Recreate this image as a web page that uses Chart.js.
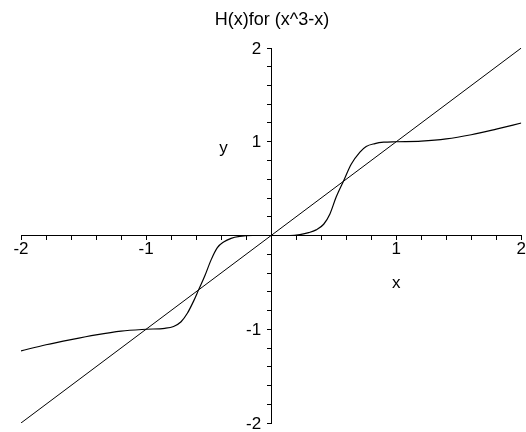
<!DOCTYPE html>
<html>
<head>
<meta charset="utf-8">
<script src="https://cdn.jsdelivr.net/npm/chart.js@4"></script>
<style>
    body { margin: 0; background: #fff; }
    #plot { display: block; }
</style>
</head>
<body>
<canvas id="plot" width="526" height="432"></canvas>
<script>
// values
const titleText = 'H(x)for (x^3-x)';
const curveX = [-2.0, -1.8, -1.6, -1.4, -1.2, -1.0, -0.85, -0.78, -0.72, -0.67, -0.62, -0.58, -0.53, -0.48, -0.43, -0.38, -0.32, -0.25, -0.15,
    0, 0.15, 0.23, 0.30, 0.36, 0.42, 0.47, 0.52, 0.58, 0.64, 0.71, 0.76, 0.83, 0.90, 1.0, 1.2, 1.4, 1.6, 1.8, 2.0];
const curveY = [-1.23, -1.165, -1.11, -1.06, -1.02, -1.0, -0.99, -0.97, -0.92, -0.83, -0.70, -0.58, -0.43, -0.26, -0.13, -0.07, -0.03, -0.01, 0,
    0, 0, 0.01, 0.03, 0.06, 0.12, 0.23, 0.41, 0.585, 0.76, 0.89, 0.95, 0.98, 0.995, 1.0, 1.007, 1.03, 1.075, 1.135, 1.20];
const lineX = [-2, 2];
const lineY = [-2, 2];
const axisRange = [-2, 2];
const tickStep = 0.2;
// where the axis names sit, in data units
const xLabelAt = [1, -0.51];
const yLabelAt = [-0.38, 0.93];

const FONT = '"Liberation Sans", Arial, sans-serif';
const toPoints = (xs, ys) => xs.map((x, i) => ({ x: x, y: ys[i] }));
const intLabel = (v) => {
    const r = Math.round(v);
    return Math.abs(v - r) < 1e-6 && r !== 0 ? String(r) : '';
};

// axis names + y tick labels (chart.js puts centred y labels right on the axis line)
const axisText = {
    id: 'axisText',
    afterDraw(chart) {
        const ctx = chart.ctx;
        const sx = chart.scales.x;
        const sy = chart.scales.y;
        const x0 = sx.getPixelForValue(0);
        ctx.save();
        ctx.fillStyle = '#000';
        ctx.font = '17px ' + FONT;
        ctx.textAlign = 'right';
        ctx.textBaseline = 'middle';
        sy.ticks.forEach(t => {
            const lbl = intLabel(t.value);
            if (lbl) ctx.fillText(lbl, x0 - 10, sy.getPixelForValue(t.value) + 1);
        });
        ctx.textAlign = 'center';
        ctx.fillText('x', sx.getPixelForValue(xLabelAt[0]), sy.getPixelForValue(xLabelAt[1]));
        ctx.fillText('y', sx.getPixelForValue(yLabelAt[0]), sy.getPixelForValue(yLabelAt[1]));
        ctx.restore();
    }
};

const axisStyle = {
    type: 'linear',
    min: axisRange[0],
    max: axisRange[1],
    border: { display: true, color: '#000', width: 1 },
    grid: { drawOnChartArea: false, drawTicks: true, tickLength: 4, color: '#000' },
    ticks: {
        stepSize: tickStep,
        autoSkip: false,
        color: '#000',
        font: { family: FONT, size: 17 },
        callback: intLabel
    }
};

new Chart(document.getElementById('plot').getContext('2d'), {
    type: 'scatter',
    data: {
        datasets: [
            {
                data: toPoints(lineX, lineY),
                showLine: true,
                borderColor: '#000',
                borderWidth: 1,
                pointRadius: 0
            },
            {
                data: toPoints(curveX, curveY),
                showLine: true,
                borderColor: '#000',
                borderWidth: 1.2,
                pointRadius: 0,
                cubicInterpolationMode: 'monotone'
            }
        ]
    },
    options: {
        responsive: false,
        animation: false,
        layout: { padding: { left: 21, right: 3, top: 0, bottom: 9 } },
        plugins: {
            legend: { display: false },
            tooltip: { enabled: false },
            title: {
                display: true,
                text: titleText,
                color: '#000',
                font: { family: FONT, size: 18, weight: 'normal' },
                padding: { top: 9, bottom: 17.4 }
            }
        },
        scales: {
            x: Object.assign({}, axisStyle, {
                position: { y: 0 },
                ticks: Object.assign({}, axisStyle.ticks, { padding: 0, maxRotation: 0 })
            }),
            y: Object.assign({}, axisStyle, {
                position: { x: 0 },
                ticks: Object.assign({}, axisStyle.ticks, { display: false })
            })
        }
    },
    plugins: [axisText]
});
</script>
</body>
</html>
